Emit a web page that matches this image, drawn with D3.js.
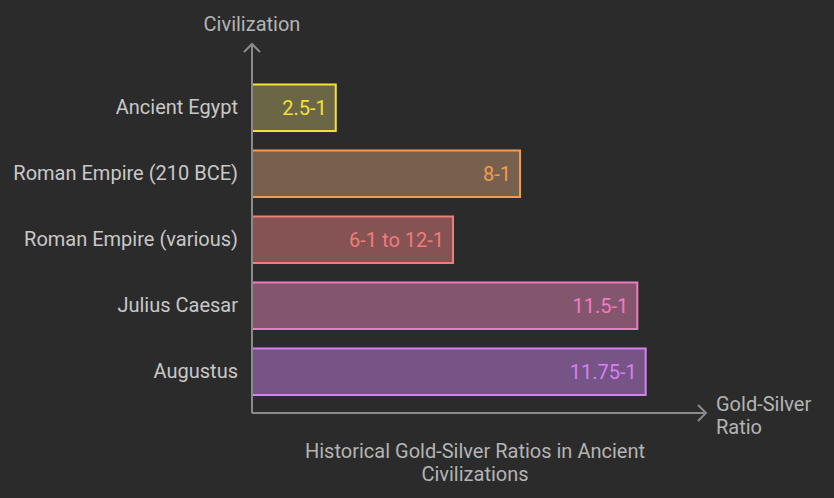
<!DOCTYPE html>
<html>
<head>
<meta charset="utf-8">
<script src="https://cdn.jsdelivr.net/npm/d3@7"></script>
<style>
  html, body { margin: 0; padding: 0; background: #2b2b2b; }
  svg { display: block; }
  text { font-family: Roboto, "Noto Sans", sans-serif; }
</style>
</head>
<body>
<script>
// data
const civilizations = ["Ancient Egypt", "Roman Empire (210 BCE)", "Roman Empire (various)", "Julius Caesar", "Augustus"];
const ratios = [2.5, 8, 6, 11.5, 11.75];
const ratioLabels = ["2.5-1", "8-1", "6-1 to 12-1", "11.5-1", "11.75-1"];
const strokeColors = ["#f5e22e", "#f59c4b", "#f27b7b", "#f27ac2", "#d680f2"];
const fillColors = ["#6b6646", "#78604e", "#855353", "#83566e", "#765486"];

const width = 834, height = 498;
const margin = {top: 74.6, right: 128, bottom: 93.1, left: 252};

const svg = d3.select("body").append("svg")
    .attr("width", width)
    .attr("height", height);

const data = civilizations.map((c, i) => ({
    name: c, value: ratios[i], label: ratioLabels[i], stroke: strokeColors[i], fill: fillColors[i]
}));

const xscale = d3.scaleLinear()
    .domain([0, 13.55])
    .range([margin.left, width - margin.right]);

const yscale = d3.scaleBand()
    .domain(civilizations)
    .range([margin.top, height - margin.bottom])
    .paddingInner(0.295)
    .paddingOuter(0.15);

// bars
svg.selectAll("rect.bar")
    .data(data)
    .enter()
    .append("rect")
    .attr("class", "bar")
    .attr("x", xscale(0))
    .attr("y", d => yscale(d.name))
    .attr("width", d => xscale(d.value) - xscale(0))
    .attr("height", yscale.bandwidth())
    .attr("fill", d => d.fill)
    .attr("stroke", d => d.stroke)
    .attr("stroke-width", 2);

// value labels inside bars
svg.selectAll("text.val")
    .data(data)
    .enter()
    .append("text")
    .attr("class", "val")
    .attr("x", d => xscale(d.value) - 9)
    .attr("y", d => yscale(d.name) + yscale.bandwidth() / 2)
    .attr("dy", "0.35em")
    .attr("text-anchor", "end")
    .attr("font-size", 20)
    .attr("fill", d => d.stroke)
    .text(d => d.label);

// category labels
svg.append("g")
    .attr("transform", `translate(${margin.left - 14},0)`)
    .call(d3.axisLeft(yscale).tickSize(0).tickPadding(0))
    .call(g => g.select(".domain").remove())
    .selectAll("text")
    .attr("font-size", 20)
    .attr("font-family", "Roboto, sans-serif")
    .attr("fill", "#c8c8c8");

// axes with arrows
const axisColor = "#8a8a8a";
const x0 = xscale(0), yBase = 413;
svg.append("path")
    .attr("d", `M${x0},${yBase} V44 M${x0 - 8},52 L${x0},44 L${x0 + 8},52`)
    .attr("fill", "none")
    .attr("stroke", axisColor)
    .attr("stroke-width", 2);
svg.append("path")
    .attr("d", `M${x0},${yBase} H706 M698,${yBase - 8} L706,${yBase} L698,${yBase + 8}`)
    .attr("fill", "none")
    .attr("stroke", axisColor)
    .attr("stroke-width", 2);

// axis titles
svg.append("text")
    .attr("x", x0)
    .attr("y", 31)
    .attr("text-anchor", "middle")
    .attr("font-size", 20)
    .attr("fill", "#b4b4b4")
    .text("Civilization");

const xTitle = svg.append("text")
    .attr("x", 716)
    .attr("y", 411)
    .attr("font-size", 20)
    .attr("fill", "#b4b4b4");
xTitle.append("tspan").attr("x", 716).text("Gold-Silver");
xTitle.append("tspan").attr("x", 716).attr("dy", 23).text("Ratio");

// chart title
const title = svg.append("text")
    .attr("x", 475)
    .attr("y", 458)
    .attr("text-anchor", "middle")
    .attr("font-size", 20)
    .attr("fill", "#b4b4b4");
title.append("tspan").attr("x", 475).text("Historical Gold-Silver Ratios in Ancient");
title.append("tspan").attr("x", 475).attr("dy", 23).text("Civilizations");
</script>
</body>
</html>
